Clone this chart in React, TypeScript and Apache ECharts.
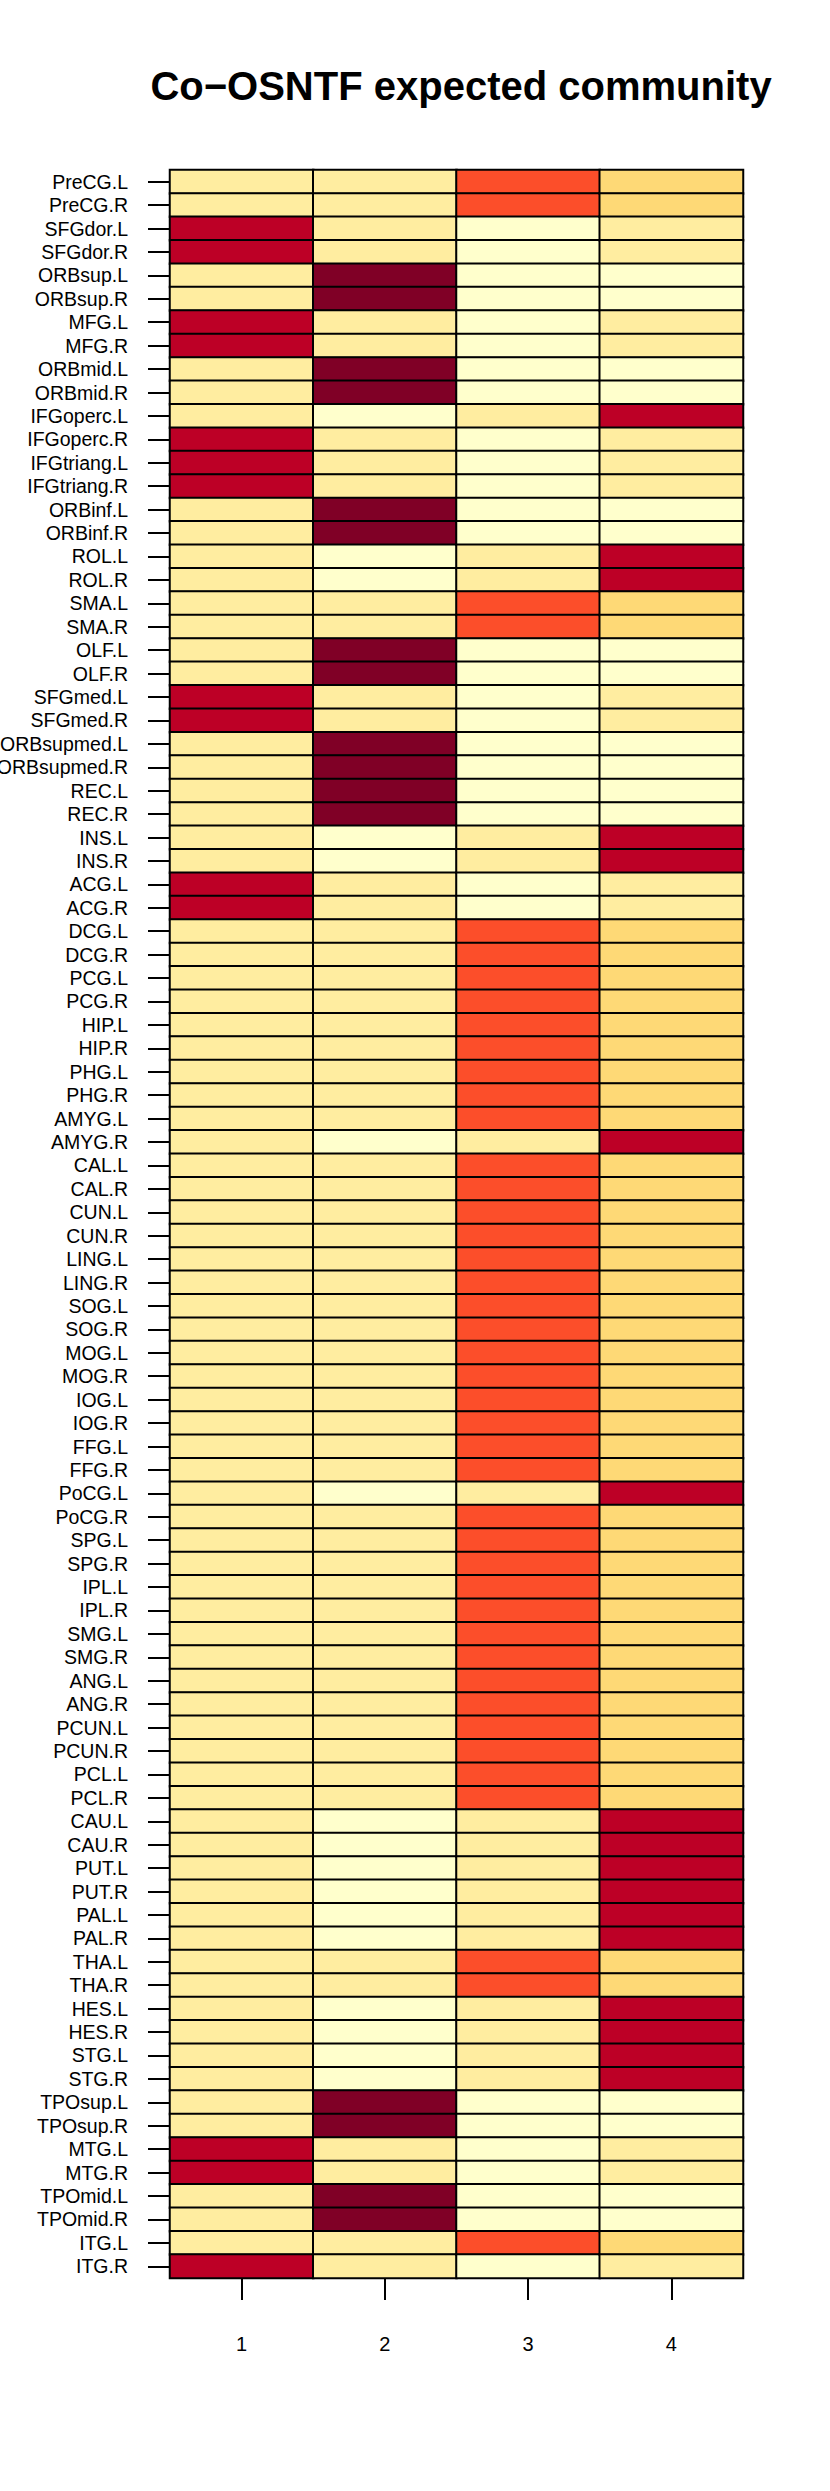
import React, { useEffect, useRef } from "react";
import * as echarts from "echarts";

const chartTitle = "Co\u2212OSNTF expected community";
const communities = ["1", "2", "3", "4"];
const regions = [
  "PreCG.L", "PreCG.R", "SFGdor.L", "SFGdor.R", "ORBsup.L", "ORBsup.R", "MFG.L", "MFG.R",
  "ORBmid.L", "ORBmid.R", "IFGoperc.L", "IFGoperc.R", "IFGtriang.L", "IFGtriang.R", "ORBinf.L", "ORBinf.R",
  "ROL.L", "ROL.R", "SMA.L", "SMA.R", "OLF.L", "OLF.R", "SFGmed.L", "SFGmed.R",
  "ORBsupmed.L", "ORBsupmed.R", "REC.L", "REC.R", "INS.L", "INS.R", "ACG.L", "ACG.R",
  "DCG.L", "DCG.R", "PCG.L", "PCG.R", "HIP.L", "HIP.R", "PHG.L", "PHG.R",
  "AMYG.L", "AMYG.R", "CAL.L", "CAL.R", "CUN.L", "CUN.R", "LING.L", "LING.R",
  "SOG.L", "SOG.R", "MOG.L", "MOG.R", "IOG.L", "IOG.R", "FFG.L", "FFG.R",
  "PoCG.L", "PoCG.R", "SPG.L", "SPG.R", "IPL.L", "IPL.R", "SMG.L", "SMG.R",
  "ANG.L", "ANG.R", "PCUN.L", "PCUN.R", "PCL.L", "PCL.R", "CAU.L", "CAU.R",
  "PUT.L", "PUT.R", "PAL.L", "PAL.R", "THA.L", "THA.R", "HES.L", "HES.R",
  "STG.L", "STG.R", "TPOsup.L", "TPOsup.R", "MTG.L", "MTG.R", "TPOmid.L", "TPOmid.R",
  "ITG.L", "ITG.R",
];

// colour level per region (index into the YlOrRd palette), one list per community
const community1 = [
  1, 1, 7, 7, 1, 1, 7, 7, 1, 1, 1, 7, 7, 7, 1, 1,
  1, 1, 1, 1, 1, 1, 7, 7, 1, 1, 1, 1, 1, 1, 7, 7,
  1, 1, 1, 1, 1, 1, 1, 1, 1, 1, 1, 1, 1, 1, 1, 1,
  1, 1, 1, 1, 1, 1, 1, 1, 1, 1, 1, 1, 1, 1, 1, 1,
  1, 1, 1, 1, 1, 1, 1, 1, 1, 1, 1, 1, 1, 1, 1, 1,
  1, 1, 1, 1, 7, 7, 1, 1, 1, 7,
];
const community2 = [
  1, 1, 1, 1, 8, 8, 1, 1, 8, 8, 0, 1, 1, 1, 8, 8,
  0, 0, 1, 1, 8, 8, 1, 1, 8, 8, 8, 8, 0, 0, 1, 1,
  1, 1, 1, 1, 1, 1, 1, 1, 1, 0, 1, 1, 1, 1, 1, 1,
  1, 1, 1, 1, 1, 1, 1, 1, 0, 1, 1, 1, 1, 1, 1, 1,
  1, 1, 1, 1, 1, 1, 0, 0, 0, 0, 0, 0, 1, 1, 0, 0,
  0, 0, 8, 8, 1, 1, 8, 8, 1, 1,
];
const community3 = [
  5, 5, 0, 0, 0, 0, 0, 0, 0, 0, 1, 0, 0, 0, 0, 0,
  1, 1, 5, 5, 0, 0, 0, 0, 0, 0, 0, 0, 1, 1, 0, 0,
  5, 5, 5, 5, 5, 5, 5, 5, 5, 1, 5, 5, 5, 5, 5, 5,
  5, 5, 5, 5, 5, 5, 5, 5, 1, 5, 5, 5, 5, 5, 5, 5,
  5, 5, 5, 5, 5, 5, 1, 1, 1, 1, 1, 1, 5, 5, 1, 1,
  1, 1, 0, 0, 0, 0, 0, 0, 5, 0,
];
const community4 = [
  2, 2, 1, 1, 0, 0, 1, 1, 0, 0, 7, 1, 1, 1, 0, 0,
  7, 7, 2, 2, 0, 0, 1, 1, 0, 0, 0, 0, 7, 7, 1, 1,
  2, 2, 2, 2, 2, 2, 2, 2, 2, 7, 2, 2, 2, 2, 2, 2,
  2, 2, 2, 2, 2, 2, 2, 2, 7, 2, 2, 2, 2, 2, 2, 2,
  2, 2, 2, 2, 2, 2, 7, 7, 7, 7, 7, 7, 2, 2, 7, 7,
  7, 7, 0, 0, 1, 1, 0, 0, 2, 1,
];

const palette = [
  "#FFFFCC", "#FFEDA0", "#FED976", "#FEB24C", "#FD8D3C",
  "#FC4E2A", "#E31A1C", "#BD0026", "#800026",
];

const FONT = '"Liberation Sans", Arial, Helvetica, sans-serif';

export default function App() {
  const ref = useRef<HTMLDivElement>(null);

  useEffect(() => {
    if (!ref.current) return;
    const chart = echarts.init(ref.current, null, { renderer: "svg" });
    const cols = [community1, community2, community3, community4];
    const data: number[][] = [];
    cols.forEach((col, x) => col.forEach((v, y) => data.push([x, y, v])));

    chart.setOption({
      animation: false,
      backgroundColor: "#ffffff",
      title: {
        text: chartTitle,
        left: 456,
        top: 61,
        textAlign: "center",
        textStyle: { fontFamily: FONT, fontWeight: "bold", fontSize: 40, color: "#000" },
      },
      grid: {
        left: 170,
        top: 170,
        right: 87,
        bottom: 213,
        containLabel: false,
        outerBoundsMode: "none",
      },
      xAxis: {
        type: "category",
        data: communities,
        axisLine: { show: false },
        splitLine: { show: false },
        axisTick: {
          show: true,
          alignWithLabel: true,
          length: 22,
          lineStyle: { color: "#000", width: 2 },
        },
        axisLabel: { margin: 56, fontSize: 20, fontFamily: FONT, color: "#000" },
      },
      yAxis: {
        type: "category",
        data: regions,
        inverse: true,
        axisLine: { show: false },
        splitLine: { show: false },
        axisTick: {
          show: true,
          alignWithLabel: true,
          interval: 0,
          length: 22,
          lineStyle: { color: "#000", width: 2 },
        },
        axisLabel: { margin: 42, interval: 0, fontSize: 19.5, fontFamily: FONT, color: "#000" },
      },
      visualMap: {
        type: "piecewise",
        show: false,
        dimension: 2,
        pieces: palette.map((c, i) => ({ value: i, color: c })),
      },
      series: [
        {
          type: "heatmap",
          data,
          itemStyle: { borderColor: "#000", borderWidth: 2 },
          emphasis: { disabled: true },
        },
      ],
    });

    return () => chart.dispose();
  }, []);

  return (
    <div
      ref={ref}
      style={{ position: "absolute", left: 0, top: 0, width: 830, height: 2491 }}
    />
  );
}
